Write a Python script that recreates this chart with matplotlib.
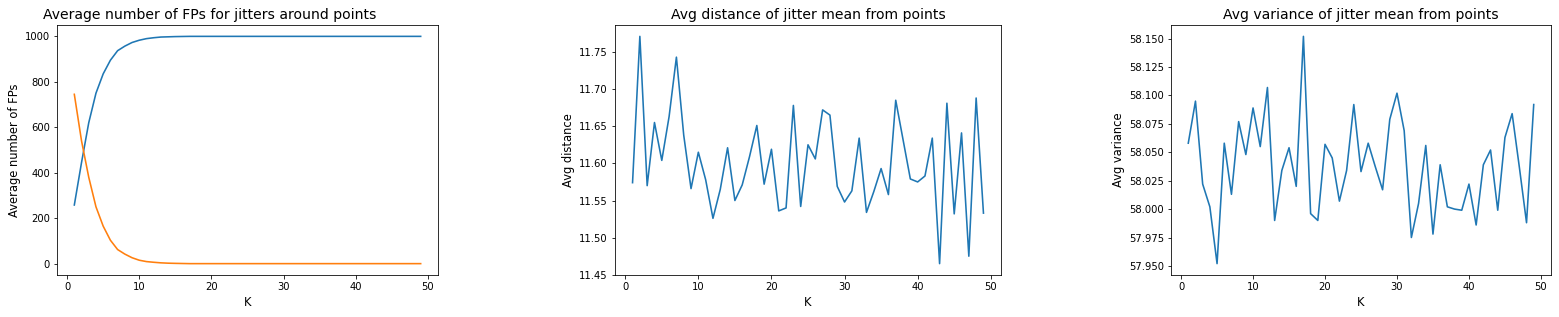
import numpy as np
import matplotlib
matplotlib.use('Agg')
import matplotlib.pyplot as plt

## K sweep results: FP counts, jitter mean distance and variance

K = list(range(1, 50))

# average number of FPs (two curves)
fps_blue = [258, 445, 620, 750, 835, 895, 937, 957, 973, 983,
            990, 994, 997, 998, 999, 999.5] + [1000] * 33
fps_orange = [745, 540, 380, 250, 165, 103, 62, 42, 26, 15,
              9, 6, 3.5, 2, 1.2, 0.6] + [0] * 33

avg_distance = [11.574, 11.771, 11.570, 11.655, 11.604, 11.663, 11.743, 11.638, 11.566, 11.615,
                11.578, 11.526, 11.565, 11.621, 11.550, 11.571, 11.609, 11.651, 11.572, 11.619,
                11.536, 11.540, 11.678, 11.542, 11.625, 11.606, 11.672, 11.665, 11.569, 11.548,
                11.563, 11.634, 11.534, 11.562, 11.593, 11.558, 11.685, 11.632, 11.579, 11.575,
                11.583, 11.634, 11.465, 11.681, 11.532, 11.641, 11.475, 11.688, 11.533]

avg_variance = [58.058, 58.095, 58.022, 58.002, 57.952, 58.058, 58.013, 58.077, 58.048, 58.089,
                58.055, 58.107, 57.990, 58.034, 58.054, 58.020, 58.152, 57.996, 57.990, 58.057,
                58.045, 58.007, 58.034, 58.092, 58.033, 58.058, 58.037, 58.017, 58.079, 58.102,
                58.069, 57.975, 58.005, 58.056, 57.978, 58.039, 58.002, 58.000, 57.999, 58.022,
                57.986, 58.039, 58.052, 57.999, 58.063, 58.084, 58.037, 57.988, 58.092]

plt.rcParams['axes.titlesize'] = 14
plt.rcParams['axes.labelsize'] = 11.5
plt.rcParams['xtick.labelsize'] = 10
plt.rcParams['ytick.labelsize'] = 10
plt.rcParams['lines.linewidth'] = 1.6

fig = plt.figure(figsize=(1559/72, 317/72), dpi=72)

H = 317.0
W = 1559.0
bottom = 1 - 275/H
height = 250/H

ax1 = fig.add_axes([57/W, bottom, 381/W, height])
ax1.plot(K, fps_blue)
ax1.plot(K, fps_orange)
# title sits a bit left of centre in the original
ax1.set_title('Average number of FPs for jitters around points', x=0.40)
ax1.set_xlabel('K')
ax1.set_ylabel('Average number of FPs')

ax2 = fig.add_axes([615/W, bottom, 386/W, height])
ax2.plot(K, avg_distance)
ax2.set_title('Avg distance of jitter mean from points')
ax2.set_xlabel('K')
ax2.set_ylabel('Avg distance')

ax3 = fig.add_axes([1171/W, bottom, 380/W, height])
ax3.plot(K, avg_variance)
ax3.set_title('Avg variance of jitter mean from points')
ax3.set_xlabel('K')
ax3.set_ylabel('Avg variance')

fig.savefig('out.png', dpi=72)
